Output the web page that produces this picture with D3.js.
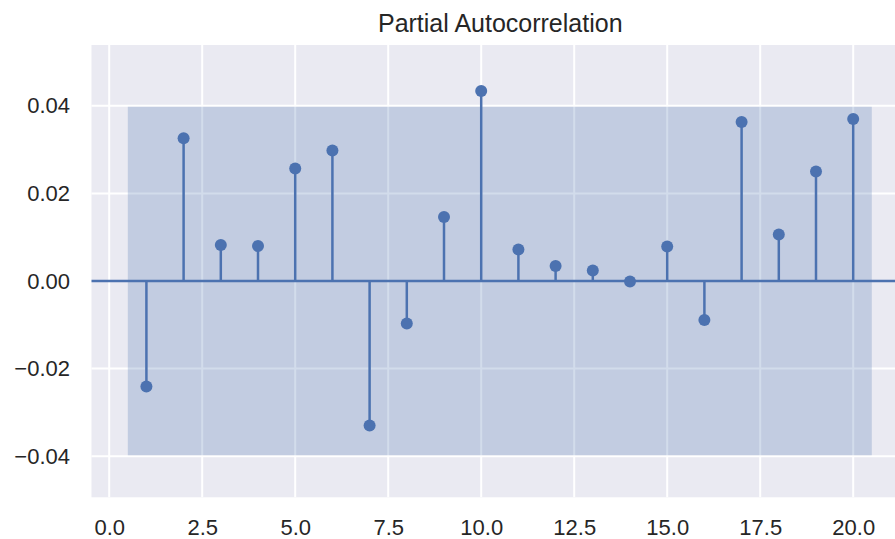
<!DOCTYPE html>
<html>
<head>
<meta charset="utf-8">
<script src="https://cdn.jsdelivr.net/npm/d3@7"></script>
<style>
  body { margin: 0; background: #fff; }
  svg { display: block; font-family: "Liberation Sans", Arial, sans-serif; }
</style>
</head>
<body>
<svg width="895" height="539"></svg>
<script>
// lags and pacf values
let lags = [1, 2, 3, 4, 5, 6, 7, 8, 9, 10, 11, 12, 13, 14, 15, 16, 17, 18, 19, 20];
let pacf = [-0.0241, 0.0326, 0.0082, 0.0080, 0.0257, 0.0298, -0.0330, -0.0097, 0.0146, 0.0434,
            0.0072, 0.0034, 0.0024, -0.0001, 0.0079, -0.0089, 0.0363, 0.0106, 0.0250, 0.0370];
let confBand = 0.0398;
let xTicks = [0, 2.5, 5, 7.5, 10, 12.5, 15, 17.5, 20, 22.5];
let yTicks = [-0.04, -0.02, 0, 0.02, 0.04];

let svg = d3.select('svg');
let blue = "#4C72B0";

let pLeft = 91.5, pRight = 909, pTop = 45, pBottom = 497.3;

let x = d3.scaleLinear().domain([-0.476, 21.5]).range([pLeft, pRight]);
let y = d3.scaleLinear().domain([-0.0494, 0.0539]).range([pBottom, pTop]);

// background
svg.append("rect")
  .attr("x", pLeft).attr("y", pTop)
  .attr("width", pRight - pLeft).attr("height", pBottom - pTop)
  .attr("fill", "#EAEAF2");

// grid
let grid = svg.append("g");
grid.selectAll(".vg").data(xTicks).enter()
  .append("line")
  .attr("x1", d => x(d)).attr("x2", d => x(d))
  .attr("y1", pTop).attr("y2", pBottom)
  .attr("stroke", "#fff").attr("stroke-width", 2);
grid.selectAll(".hg").data(yTicks).enter()
  .append("line")
  .attr("x1", pLeft).attr("x2", pRight)
  .attr("y1", d => y(d)).attr("y2", d => y(d))
  .attr("stroke", "#fff").attr("stroke-width", 2);

// confidence band
svg.append("rect")
  .attr("x", x(lags[0] - 0.5))
  .attr("width", x(lags[lags.length - 1] + 0.5) - x(lags[0] - 0.5))
  .attr("y", y(confBand))
  .attr("height", y(-confBand) - y(confBand))
  .attr("fill", blue).attr("fill-opacity", 0.25);

// zero line
svg.append("line")
  .attr("x1", pLeft).attr("x2", pRight)
  .attr("y1", y(0)).attr("y2", y(0))
  .attr("stroke", blue).attr("stroke-width", 2.5);

let pts = lags.map((l, i) => ({lag: l, v: pacf[i]}));

// stems
svg.selectAll(".stem").data(pts).enter()
  .append("line")
  .attr("x1", d => x(d.lag)).attr("x2", d => x(d.lag))
  .attr("y1", y(0)).attr("y2", d => y(d.v))
  .attr("stroke", blue).attr("stroke-width", 2.5);

// markers
svg.selectAll(".dot").data(pts).enter()
  .append("circle")
  .attr("cx", d => x(d.lag)).attr("cy", d => y(d.v))
  .attr("r", 6)
  .attr("fill", blue);

// axes
let xAxis = svg.append("g")
  .attr("transform", "translate(0," + pBottom + ")")
  .call(d3.axisBottom(x).tickValues(xTicks.slice(0, 9)).tickFormat(d3.format(".1f"))
    .tickSize(0).tickPadding(22));
let yAxis = svg.append("g")
  .attr("transform", "translate(" + pLeft + ",0)")
  .call(d3.axisLeft(y).tickValues(yTicks).tickFormat(d3.format(".2f"))
    .tickSize(0).tickPadding(21.5));

[xAxis, yAxis].forEach(a => {
  a.select(".domain").remove();
  a.selectAll("text")
    .attr("font-size", 22)
    .attr("font-family", "Liberation Sans, Arial, sans-serif")
    .attr("fill", "#262626");
});

// title
svg.append("text")
  .attr("x", (pLeft + pRight) / 2)
  .attr("y", 31.5)
  .attr("text-anchor", "middle")
  .attr("font-size", 25)
  .attr("fill", "#262626")
  .text("Partial Autocorrelation");
</script>
</body>
</html>
